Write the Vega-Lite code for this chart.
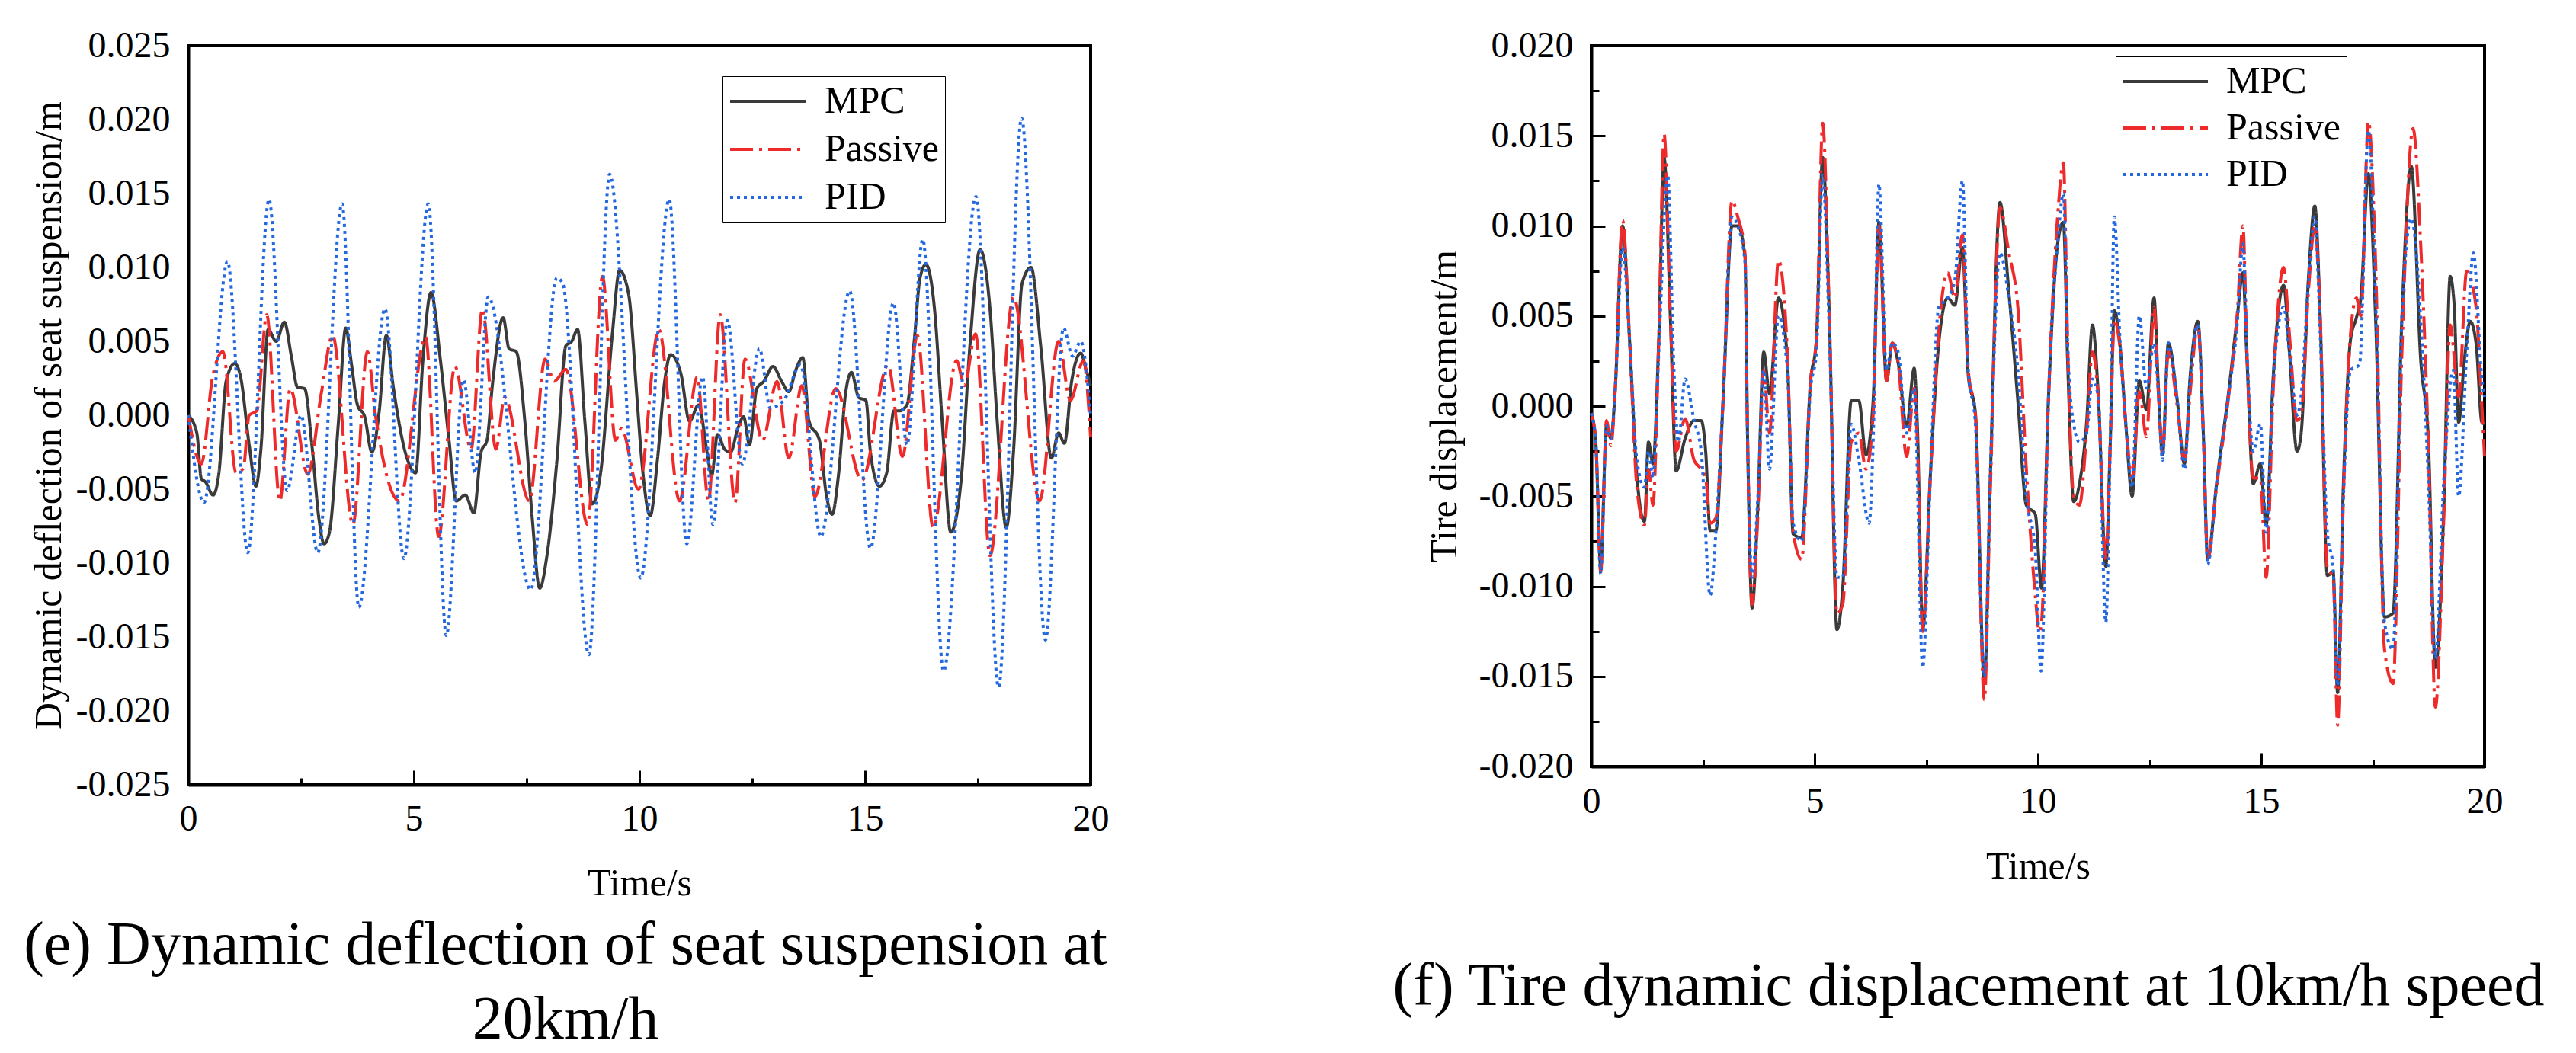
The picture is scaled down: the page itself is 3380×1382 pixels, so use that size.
{
"$schema": "https://vega.github.io/schema/vega-lite/v6.json",
"background": "white",
"padding": {"left": 29, "top": 34, "right": 0, "bottom": 0},
"bounds": "flush",
"spacing": 657,
"config": {
  "locale": {"number": {"decimal": ".", "thousands": ",", "grouping": [3], "currency": ["$", ""], "minus": "-"}},
  "view": {"stroke": "black", "strokeWidth": 4},
  "font": "Liberation Serif",
  "axis": {"domainColor": "black", "domainWidth": 4, "tickColor": "black", "tickWidth": 3, "labelColor": "black", "titleColor": "black", "labelFont": "Liberation Serif", "titleFont": "Liberation Serif", "labelFontSize": 48, "titleFontSize": 50, "titleFontWeight": "normal", "grid": false, "labelFlush": false, "labelOverlap": false},
  "legend": {"title": null, "symbolType": "stroke", "symbolStrokeWidth": 4, "labelFont": "Liberation Serif", "labelFontSize": 50, "labelColor": "black", "strokeColor": "black", "fillColor": "white", "padding": 8, "clipHeight": 50, "labelOffset": 22, "orient": "none"}
},
"resolve": {"scale": {"color": "independent", "strokeDash": "independent"}, "legend": {"color": "independent", "strokeDash": "independent"}},
"datasets": {
"left": [
{"s":"MPC","t":0,"v":0},{"s":"MPC","t":0.19,"v":-0.0012},{"s":"MPC","t":0.29,"v":-0.0043},{"s":"MPC","t":0.38,"v":-0.0045},{"s":"MPC","t":0.55,"v":-0.0054},{"s":"MPC","t":0.68,"v":-0.0039},{"s":"MPC","t":0.84,"v":0.0023},{"s":"MPC","t":1.03,"v":0.0035},{"s":"MPC","t":1.16,"v":0.0026},{"s":"MPC","t":1.35,"v":-0.002},{"s":"MPC","t":1.5,"v":-0.0048},{"s":"MPC","t":1.61,"v":-0.0023},{"s":"MPC","t":1.77,"v":0.0058},{"s":"MPC","t":1.95,"v":0.005},{"s":"MPC","t":2.13,"v":0.0063},{"s":"MPC","t":2.29,"v":0.0039},{"s":"MPC","t":2.42,"v":0.0019},{"s":"MPC","t":2.58,"v":0.0018},{"s":"MPC","t":2.74,"v":-0.002},{"s":"MPC","t":2.9,"v":-0.0071},{"s":"MPC","t":3.01,"v":-0.0087},{"s":"MPC","t":3.13,"v":-0.0079},{"s":"MPC","t":3.33,"v":-0.0004},{"s":"MPC","t":3.49,"v":0.0059},{"s":"MPC","t":3.62,"v":0.0034},{"s":"MPC","t":3.75,"v":0.0007},{"s":"MPC","t":3.91,"v":-0.0001},{"s":"MPC","t":4.07,"v":-0.0025},{"s":"MPC","t":4.23,"v":0.0002},{"s":"MPC","t":4.39,"v":0.0054},{"s":"MPC","t":4.55,"v":0.0018},{"s":"MPC","t":4.81,"v":-0.0025},{"s":"MPC","t":5.04,"v":-0.0039},{"s":"MPC","t":5.2,"v":0.0037},{"s":"MPC","t":5.38,"v":0.0083},{"s":"MPC","t":5.59,"v":0.0037},{"s":"MPC","t":5.78,"v":-0.0017},{"s":"MPC","t":5.94,"v":-0.0058},{"s":"MPC","t":6.14,"v":-0.0054},{"s":"MPC","t":6.33,"v":-0.0066},{"s":"MPC","t":6.49,"v":-0.0025},{"s":"MPC","t":6.62,"v":-0.0017},{"s":"MPC","t":6.75,"v":0.0023},{"s":"MPC","t":6.98,"v":0.0066},{"s":"MPC","t":7.11,"v":0.0045},{"s":"MPC","t":7.27,"v":0.0043},{"s":"MPC","t":7.46,"v":-0.0004},{"s":"MPC","t":7.62,"v":-0.0068},{"s":"MPC","t":7.79,"v":-0.0117},{"s":"MPC","t":7.95,"v":-0.0095},{"s":"MPC","t":8.17,"v":-0.0031},{"s":"MPC","t":8.37,"v":0.0047},{"s":"MPC","t":8.5,"v":0.005},{"s":"MPC","t":8.63,"v":0.0058},{"s":"MPC","t":8.79,"v":-0.0004},{"s":"MPC","t":8.95,"v":-0.006},{"s":"MPC","t":9.14,"v":-0.0039},{"s":"MPC","t":9.4,"v":0.0055},{"s":"MPC","t":9.56,"v":0.0098},{"s":"MPC","t":9.76,"v":0.0082},{"s":"MPC","t":9.95,"v":0.001},{"s":"MPC","t":10.05,"v":-0.003},{"s":"MPC","t":10.24,"v":-0.0068},{"s":"MPC","t":10.4,"v":-0.003},{"s":"MPC","t":10.56,"v":0.0023},{"s":"MPC","t":10.69,"v":0.0041},{"s":"MPC","t":10.92,"v":0.0028},{"s":"MPC","t":11.11,"v":-0.0004},{"s":"MPC","t":11.31,"v":0.0007},{"s":"MPC","t":11.5,"v":-0.0025},{"s":"MPC","t":11.6,"v":-0.0041},{"s":"MPC","t":11.73,"v":-0.0013},{"s":"MPC","t":11.89,"v":-0.0023},{"s":"MPC","t":12.02,"v":-0.0025},{"s":"MPC","t":12.18,"v":-0.0009},{"s":"MPC","t":12.31,"v":-0.0001},{"s":"MPC","t":12.44,"v":-0.002},{"s":"MPC","t":12.6,"v":0.0018},{"s":"MPC","t":12.76,"v":0.0023},{"s":"MPC","t":12.96,"v":0.0033},{"s":"MPC","t":13.15,"v":0.0023},{"s":"MPC","t":13.31,"v":0.0016},{"s":"MPC","t":13.47,"v":0.0031},{"s":"MPC","t":13.62,"v":0.0039},{"s":"MPC","t":13.76,"v":-0.0004},{"s":"MPC","t":13.99,"v":-0.0017},{"s":"MPC","t":14.15,"v":-0.0055},{"s":"MPC","t":14.27,"v":-0.0067},{"s":"MPC","t":14.41,"v":-0.0041},{"s":"MPC","t":14.57,"v":0.0015},{"s":"MPC","t":14.7,"v":0.0029},{"s":"MPC","t":14.86,"v":0.0012},{"s":"MPC","t":15.02,"v":0.001},{"s":"MPC","t":15.12,"v":-0.0025},{"s":"MPC","t":15.32,"v":-0.0048},{"s":"MPC","t":15.48,"v":-0.0039},{"s":"MPC","t":15.64,"v":0.0003},{"s":"MPC","t":15.77,"v":0.0003},{"s":"MPC","t":15.93,"v":0.0007},{"s":"MPC","t":16.09,"v":0.005},{"s":"MPC","t":16.22,"v":0.0093},{"s":"MPC","t":16.35,"v":0.0102},{"s":"MPC","t":16.54,"v":0.0072},{"s":"MPC","t":16.71,"v":-0.0004},{"s":"MPC","t":16.9,"v":-0.0079},{"s":"MPC","t":17.13,"v":-0.0044},{"s":"MPC","t":17.32,"v":0.0045},{"s":"MPC","t":17.55,"v":0.0112},{"s":"MPC","t":17.77,"v":0.0072},{"s":"MPC","t":17.93,"v":-0.0004},{"s":"MPC","t":18.13,"v":-0.0076},{"s":"MPC","t":18.29,"v":-0.0025},{"s":"MPC","t":18.48,"v":0.0089},{"s":"MPC","t":18.68,"v":0.01},{"s":"MPC","t":18.9,"v":0.0045},{"s":"MPC","t":19.13,"v":-0.0029},{"s":"MPC","t":19.29,"v":-0.0012},{"s":"MPC","t":19.42,"v":-0.0019},{"s":"MPC","t":19.58,"v":0.0023},{"s":"MPC","t":19.78,"v":0.0042},{"s":"MPC","t":19.9,"v":0.0031},{"s":"MPC","t":20,"v":0.002},
{"s":"Passive","t":0,"v":0},{"s":"Passive","t":0.29,"v":-0.0033},{"s":"Passive","t":0.54,"v":0.0026},{"s":"Passive","t":0.77,"v":0.0043},{"s":"Passive","t":1.06,"v":-0.0039},{"s":"Passive","t":1.22,"v":-0.0036},{"s":"Passive","t":1.35,"v":0},{"s":"Passive","t":1.52,"v":0.0003},{"s":"Passive","t":1.74,"v":0.0068},{"s":"Passive","t":2.03,"v":-0.0058},{"s":"Passive","t":2.26,"v":0.0018},{"s":"Passive","t":2.65,"v":-0.004},{"s":"Passive","t":2.95,"v":0.0015},{"s":"Passive","t":3.2,"v":0.0054},{"s":"Passive","t":3.65,"v":-0.0074},{"s":"Passive","t":3.97,"v":0.0043},{"s":"Passive","t":4.15,"v":0},{"s":"Passive","t":4.68,"v":-0.0058},{"s":"Passive","t":5.26,"v":0.0053},{"s":"Passive","t":5.55,"v":-0.0082},{"s":"Passive","t":5.91,"v":0.0033},{"s":"Passive","t":6.27,"v":-0.0023},{"s":"Passive","t":6.52,"v":0.0072},{"s":"Passive","t":6.82,"v":-0.0023},{"s":"Passive","t":7.01,"v":0.0012},{"s":"Passive","t":7.56,"v":-0.0058},{"s":"Passive","t":7.91,"v":0.0038},{"s":"Passive","t":8.11,"v":0.0023},{"s":"Passive","t":8.37,"v":0.0031},{"s":"Passive","t":8.85,"v":-0.0074},{"s":"Passive","t":9.18,"v":0.0094},{"s":"Passive","t":9.47,"v":-0.0017},{"s":"Passive","t":9.6,"v":-0.0009},{"s":"Passive","t":9.98,"v":-0.005},{"s":"Passive","t":10.43,"v":0.0058},{"s":"Passive","t":10.89,"v":-0.0058},{"s":"Passive","t":11.28,"v":0.0026},{"s":"Passive","t":11.53,"v":-0.0058},{"s":"Passive","t":11.79,"v":0.0068},{"s":"Passive","t":12.12,"v":-0.0059},{"s":"Passive","t":12.34,"v":0.0038},{"s":"Passive","t":12.73,"v":-0.0017},{"s":"Passive","t":13.05,"v":0.0023},{"s":"Passive","t":13.31,"v":-0.0029},{"s":"Passive","t":13.6,"v":0.002},{"s":"Passive","t":13.89,"v":-0.0055},{"s":"Passive","t":14.35,"v":0.0018},{"s":"Passive","t":14.93,"v":-0.0044},{"s":"Passive","t":15.51,"v":0.0034},{"s":"Passive","t":15.83,"v":-0.0028},{"s":"Passive","t":16.16,"v":0.0054},{"s":"Passive","t":16.51,"v":-0.0076},{"s":"Passive","t":17.03,"v":0.0037},{"s":"Passive","t":17.2,"v":0.002},{"s":"Passive","t":17.45,"v":0.0055},{"s":"Passive","t":17.77,"v":-0.0095},{"s":"Passive","t":18.29,"v":0.008},{"s":"Passive","t":18.87,"v":-0.0058},{"s":"Passive","t":19.29,"v":0.005},{"s":"Passive","t":19.55,"v":0.001},{"s":"Passive","t":19.84,"v":0.0037},{"s":"Passive","t":20,"v":-0.0015},
{"s":"PID","t":0,"v":0},{"s":"PID","t":0.35,"v":-0.0059},{"s":"PID","t":0.87,"v":0.0104},{"s":"PID","t":1.32,"v":-0.0093},{"s":"PID","t":1.79,"v":0.0146},{"s":"PID","t":2.19,"v":-0.0051},{"s":"PID","t":2.5,"v":0},{"s":"PID","t":2.87,"v":-0.0093},{"s":"PID","t":3.41,"v":0.0143},{"s":"PID","t":3.78,"v":-0.013},{"s":"PID","t":4.36,"v":0.0072},{"s":"PID","t":4.78,"v":-0.0097},{"s":"PID","t":5.32,"v":0.0143},{"s":"PID","t":5.72,"v":-0.0149},{"s":"PID","t":6.1,"v":0.0024},{"s":"PID","t":6.36,"v":-0.0039},{"s":"PID","t":6.65,"v":0.008},{"s":"PID","t":7.59,"v":-0.0118},{"s":"PID","t":8.17,"v":0.0093},{"s":"PID","t":8.3,"v":0.0089},{"s":"PID","t":8.88,"v":-0.0162},{"s":"PID","t":9.34,"v":0.0163},{"s":"PID","t":10.03,"v":-0.011},{"s":"PID","t":10.66,"v":0.0146},{"s":"PID","t":11.05,"v":-0.0087},{"s":"PID","t":11.4,"v":0.0026},{"s":"PID","t":11.63,"v":-0.0074},{"s":"PID","t":11.95,"v":0.0064},{"s":"PID","t":12.28,"v":-0.0033},{"s":"PID","t":12.66,"v":0.0045},{"s":"PID","t":12.9,"v":0.0005},{"s":"PID","t":13.2,"v":0.001},{"s":"PID","t":13.57,"v":0.0034},{"s":"PID","t":14.02,"v":-0.0082},{"s":"PID","t":14.66,"v":0.0084},{"s":"PID","t":15.12,"v":-0.009},{"s":"PID","t":15.63,"v":0.0076},{"s":"PID","t":15.93,"v":-0.002},{"s":"PID","t":16.28,"v":0.0119},{"s":"PID","t":16.74,"v":-0.0173},{"s":"PID","t":17.46,"v":0.0148},{"s":"PID","t":17.96,"v":-0.0184},{"s":"PID","t":18.47,"v":0.0201},{"s":"PID","t":19,"v":-0.0152},{"s":"PID","t":19.4,"v":0.0059},{"s":"PID","t":19.6,"v":0.004},{"s":"PID","t":19.78,"v":0.005},{"s":"PID","t":20,"v":0}
],
"right": [
{"s":"MPC","t":0,"v":-0.0004},{"s":"MPC","t":0.1,"v":-0.002},{"s":"MPC","t":0.21,"v":-0.0089},{"s":"MPC","t":0.34,"v":-0.0011},{"s":"MPC","t":0.44,"v":-0.0018},{"s":"MPC","t":0.53,"v":0.0007},{"s":"MPC","t":0.7,"v":0.01},{"s":"MPC","t":0.86,"v":0.0035},{"s":"MPC","t":1.02,"v":-0.0039},{"s":"MPC","t":1.19,"v":-0.0064},{"s":"MPC","t":1.28,"v":-0.002},{"s":"MPC","t":1.38,"v":-0.0032},{"s":"MPC","t":1.51,"v":0.0037},{"s":"MPC","t":1.63,"v":0.0138},{"s":"MPC","t":1.77,"v":0.0049},{"s":"MPC","t":1.9,"v":-0.0036},{"s":"MPC","t":2.1,"v":-0.0018},{"s":"MPC","t":2.3,"v":-0.0008},{"s":"MPC","t":2.46,"v":-0.0008},{"s":"MPC","t":2.56,"v":-0.0025},{"s":"MPC","t":2.66,"v":-0.0069},{"s":"MPC","t":2.79,"v":-0.0069},{"s":"MPC","t":2.95,"v":0.0003},{"s":"MPC","t":3.15,"v":0.01},{"s":"MPC","t":3.28,"v":0.01},{"s":"MPC","t":3.44,"v":0.0083},{"s":"MPC","t":3.5,"v":-0.002},{"s":"MPC","t":3.6,"v":-0.0112},{"s":"MPC","t":3.73,"v":-0.0055},{"s":"MPC","t":3.86,"v":0.003},{"s":"MPC","t":3.99,"v":0.0007},{"s":"MPC","t":4.19,"v":0.006},{"s":"MPC","t":4.39,"v":0.0026},{"s":"MPC","t":4.52,"v":-0.0071},{"s":"MPC","t":4.71,"v":-0.0073},{"s":"MPC","t":4.91,"v":0.0014},{"s":"MPC","t":5.04,"v":0.0037},{"s":"MPC","t":5.18,"v":0.0138},{"s":"MPC","t":5.33,"v":0.0049},{"s":"MPC","t":5.5,"v":-0.0124},{"s":"MPC","t":5.63,"v":-0.0101},{"s":"MPC","t":5.82,"v":0.0003},{"s":"MPC","t":5.99,"v":0.0003},{"s":"MPC","t":6.15,"v":-0.0027},{"s":"MPC","t":6.31,"v":0.0003},{"s":"MPC","t":6.44,"v":0.0102},{"s":"MPC","t":6.61,"v":0.0014},{"s":"MPC","t":6.74,"v":0.0035},{"s":"MPC","t":6.87,"v":0.0024},{"s":"MPC","t":7.06,"v":-0.0011},{"s":"MPC","t":7.23,"v":0.0021},{"s":"MPC","t":7.3,"v":-0.0011},{"s":"MPC","t":7.42,"v":-0.0124},{"s":"MPC","t":7.59,"v":-0.0039},{"s":"MPC","t":7.78,"v":0.0035},{"s":"MPC","t":7.98,"v":0.006},{"s":"MPC","t":8.14,"v":0.0056},{"s":"MPC","t":8.31,"v":0.0088},{"s":"MPC","t":8.44,"v":0.0017},{"s":"MPC","t":8.6,"v":-0.0004},{"s":"MPC","t":8.8,"v":-0.0154},{"s":"MPC","t":8.93,"v":-0.0043},{"s":"MPC","t":9.15,"v":0.0113},{"s":"MPC","t":9.35,"v":0.0063},{"s":"MPC","t":9.55,"v":0.0003},{"s":"MPC","t":9.74,"v":-0.0055},{"s":"MPC","t":9.94,"v":-0.006},{"s":"MPC","t":10.08,"v":-0.0101},{"s":"MPC","t":10.24,"v":0.0007},{"s":"MPC","t":10.44,"v":0.009},{"s":"MPC","t":10.57,"v":0.0102},{"s":"MPC","t":10.67,"v":0.0021},{"s":"MPC","t":10.8,"v":-0.0053},{"s":"MPC","t":10.93,"v":-0.0043},{"s":"MPC","t":11.09,"v":-0.0009},{"s":"MPC","t":11.22,"v":0.0045},{"s":"MPC","t":11.35,"v":0.0007},{"s":"MPC","t":11.52,"v":-0.0089},{"s":"MPC","t":11.62,"v":-0.002},{"s":"MPC","t":11.71,"v":0.0053},{"s":"MPC","t":11.84,"v":0.0033},{"s":"MPC","t":11.97,"v":-0.0011},{"s":"MPC","t":12.11,"v":-0.005},{"s":"MPC","t":12.27,"v":0.0014},{"s":"MPC","t":12.43,"v":-0.0002},{"s":"MPC","t":12.6,"v":0.006},{"s":"MPC","t":12.69,"v":0.0014},{"s":"MPC","t":12.79,"v":-0.0027},{"s":"MPC","t":12.92,"v":0.0035},{"s":"MPC","t":13.12,"v":0.0003},{"s":"MPC","t":13.28,"v":-0.0032},{"s":"MPC","t":13.41,"v":0.0017},{"s":"MPC","t":13.58,"v":0.0047},{"s":"MPC","t":13.71,"v":-0.002},{"s":"MPC","t":13.8,"v":-0.0085},{"s":"MPC","t":14,"v":-0.0043},{"s":"MPC","t":14.29,"v":0.0012},{"s":"MPC","t":14.46,"v":0.0049},{"s":"MPC","t":14.59,"v":0.0074},{"s":"MPC","t":14.68,"v":0.0026},{"s":"MPC","t":14.82,"v":-0.0043},{"s":"MPC","t":14.98,"v":-0.0032},{"s":"MPC","t":15.11,"v":-0.0066},{"s":"MPC","t":15.27,"v":0.0017},{"s":"MPC","t":15.5,"v":0.0067},{"s":"MPC","t":15.63,"v":0.003},{"s":"MPC","t":15.8,"v":-0.0025},{"s":"MPC","t":15.89,"v":-0.0016},{"s":"MPC","t":16.06,"v":0.0072},{"s":"MPC","t":16.2,"v":0.0111},{"s":"MPC","t":16.32,"v":0.0049},{"s":"MPC","t":16.48,"v":-0.0094},{"s":"MPC","t":16.61,"v":-0.0092},{"s":"MPC","t":16.71,"v":-0.0159},{"s":"MPC","t":16.84,"v":-0.0043},{"s":"MPC","t":17,"v":0.0037},{"s":"MPC","t":17.13,"v":0.0049},{"s":"MPC","t":17.23,"v":0.006},{"s":"MPC","t":17.4,"v":0.0129},{"s":"MPC","t":17.56,"v":0.0049},{"s":"MPC","t":17.76,"v":-0.0117},{"s":"MPC","t":17.95,"v":-0.0115},{"s":"MPC","t":18.15,"v":0.0049},{"s":"MPC","t":18.36,"v":0.0133},{"s":"MPC","t":18.57,"v":0.0026},{"s":"MPC","t":18.74,"v":-0.0018},{"s":"MPC","t":18.9,"v":-0.0145},{"s":"MPC","t":19.09,"v":-0.0055},{"s":"MPC","t":19.23,"v":0.0072},{"s":"MPC","t":19.32,"v":0.0056},{"s":"MPC","t":19.42,"v":-0.0009},{"s":"MPC","t":19.55,"v":0.0026},{"s":"MPC","t":19.68,"v":0.0047},{"s":"MPC","t":19.81,"v":0.0035},{"s":"MPC","t":19.94,"v":-0.0009},{"s":"MPC","t":20,"v":-0.001},
{"s":"Passive","t":0,"v":-0.0004},{"s":"Passive","t":0.1,"v":-0.002},{"s":"Passive","t":0.21,"v":-0.0092},{"s":"Passive","t":0.34,"v":-0.0008},{"s":"Passive","t":0.44,"v":-0.0022},{"s":"Passive","t":0.53,"v":0.0007},{"s":"Passive","t":0.7,"v":0.0103},{"s":"Passive","t":0.86,"v":0.0035},{"s":"Passive","t":1.02,"v":-0.0045},{"s":"Passive","t":1.19,"v":-0.0066},{"s":"Passive","t":1.28,"v":-0.0035},{"s":"Passive","t":1.38,"v":-0.0055},{"s":"Passive","t":1.51,"v":0.0037},{"s":"Passive","t":1.63,"v":0.0151},{"s":"Passive","t":1.77,"v":0.005},{"s":"Passive","t":1.9,"v":-0.0025},{"s":"Passive","t":2.1,"v":-0.0007},{"s":"Passive","t":2.3,"v":-0.003},{"s":"Passive","t":2.46,"v":-0.0035},{"s":"Passive","t":2.56,"v":-0.004},{"s":"Passive","t":2.66,"v":-0.0065},{"s":"Passive","t":2.79,"v":-0.0062},{"s":"Passive","t":2.95,"v":0.0003},{"s":"Passive","t":3.15,"v":0.0114},{"s":"Passive","t":3.28,"v":0.0105},{"s":"Passive","t":3.44,"v":0.0085},{"s":"Passive","t":3.5,"v":-0.002},{"s":"Passive","t":3.6,"v":-0.011},{"s":"Passive","t":3.73,"v":-0.006},{"s":"Passive","t":3.86,"v":0.002},{"s":"Passive","t":3.99,"v":-0.0015},{"s":"Passive","t":4.19,"v":0.0081},{"s":"Passive","t":4.39,"v":0.003},{"s":"Passive","t":4.52,"v":-0.007},{"s":"Passive","t":4.71,"v":-0.0085},{"s":"Passive","t":4.91,"v":0.0014},{"s":"Passive","t":5.04,"v":0.0037},{"s":"Passive","t":5.18,"v":0.0157},{"s":"Passive","t":5.33,"v":0.005},{"s":"Passive","t":5.5,"v":-0.0115},{"s":"Passive","t":5.63,"v":-0.011},{"s":"Passive","t":5.82,"v":-0.002},{"s":"Passive","t":5.99,"v":-0.0015},{"s":"Passive","t":6.15,"v":-0.0035},{"s":"Passive","t":6.31,"v":-0.0005},{"s":"Passive","t":6.44,"v":0.01},{"s":"Passive","t":6.61,"v":0.0014},{"s":"Passive","t":6.74,"v":0.0035},{"s":"Passive","t":6.87,"v":0.0024},{"s":"Passive","t":7.06,"v":-0.0028},{"s":"Passive","t":7.23,"v":0.001},{"s":"Passive","t":7.3,"v":-0.002},{"s":"Passive","t":7.42,"v":-0.0125},{"s":"Passive","t":7.59,"v":-0.004},{"s":"Passive","t":7.78,"v":0.0042},{"s":"Passive","t":7.98,"v":0.0074},{"s":"Passive","t":8.14,"v":0.006},{"s":"Passive","t":8.31,"v":0.0095},{"s":"Passive","t":8.44,"v":0.002},{"s":"Passive","t":8.6,"v":-0.0005},{"s":"Passive","t":8.8,"v":-0.0163},{"s":"Passive","t":8.93,"v":-0.005},{"s":"Passive","t":9.15,"v":0.011},{"s":"Passive","t":9.35,"v":0.0085},{"s":"Passive","t":9.55,"v":0.0055},{"s":"Passive","t":9.74,"v":-0.0035},{"s":"Passive","t":9.94,"v":-0.0105},{"s":"Passive","t":10.03,"v":-0.0125},{"s":"Passive","t":10.08,"v":-0.012},{"s":"Passive","t":10.24,"v":0.0007},{"s":"Passive","t":10.44,"v":0.0105},{"s":"Passive","t":10.57,"v":0.0135},{"s":"Passive","t":10.67,"v":0.003},{"s":"Passive","t":10.8,"v":-0.005},{"s":"Passive","t":10.93,"v":-0.0055},{"s":"Passive","t":11.09,"v":-0.0015},{"s":"Passive","t":11.22,"v":0.003},{"s":"Passive","t":11.35,"v":0.0005},{"s":"Passive","t":11.52,"v":-0.0085},{"s":"Passive","t":11.62,"v":-0.002},{"s":"Passive","t":11.71,"v":0.0048},{"s":"Passive","t":11.84,"v":0.0032},{"s":"Passive","t":11.97,"v":-0.001},{"s":"Passive","t":12.11,"v":-0.004},{"s":"Passive","t":12.27,"v":0.0008},{"s":"Passive","t":12.43,"v":-0.0017},{"s":"Passive","t":12.6,"v":0.0055},{"s":"Passive","t":12.69,"v":0.001},{"s":"Passive","t":12.79,"v":-0.0025},{"s":"Passive","t":12.92,"v":0.003},{"s":"Passive","t":13.12,"v":0},{"s":"Passive","t":13.28,"v":-0.003},{"s":"Passive","t":13.41,"v":0.0008},{"s":"Passive","t":13.58,"v":0.0045},{"s":"Passive","t":13.71,"v":-0.002},{"s":"Passive","t":13.8,"v":-0.0085},{"s":"Passive","t":14,"v":-0.0045},{"s":"Passive","t":14.29,"v":0.001},{"s":"Passive","t":14.46,"v":0.005},{"s":"Passive","t":14.59,"v":0.01},{"s":"Passive","t":14.68,"v":0.003},{"s":"Passive","t":14.82,"v":-0.004},{"s":"Passive","t":14.98,"v":-0.004},{"s":"Passive","t":15.11,"v":-0.0095},{"s":"Passive","t":15.27,"v":0.001},{"s":"Passive","t":15.5,"v":0.0077},{"s":"Passive","t":15.63,"v":0.004},{"s":"Passive","t":15.8,"v":-0.0008},{"s":"Passive","t":15.89,"v":-0.0005},{"s":"Passive","t":16.06,"v":0.0065},{"s":"Passive","t":16.2,"v":0.01},{"s":"Passive","t":16.32,"v":0.005},{"s":"Passive","t":16.48,"v":-0.009},{"s":"Passive","t":16.61,"v":-0.0095},{"s":"Passive","t":16.71,"v":-0.0177},{"s":"Passive","t":16.84,"v":-0.005},{"s":"Passive","t":17,"v":0.004},{"s":"Passive","t":17.13,"v":0.006},{"s":"Passive","t":17.23,"v":0.005},{"s":"Passive","t":17.4,"v":0.0158},{"s":"Passive","t":17.56,"v":0.008},{"s":"Passive","t":17.76,"v":-0.0135},{"s":"Passive","t":17.95,"v":-0.0154},{"s":"Passive","t":18.15,"v":0.003},{"s":"Passive","t":18.4,"v":0.0154},{"s":"Passive","t":18.57,"v":0.009},{"s":"Passive","t":18.74,"v":-0.002},{"s":"Passive","t":18.9,"v":-0.0167},{"s":"Passive","t":19.09,"v":-0.006},{"s":"Passive","t":19.23,"v":0.0045},{"s":"Passive","t":19.42,"v":0.0005},{"s":"Passive","t":19.6,"v":0.0075},{"s":"Passive","t":19.81,"v":0.0055},{"s":"Passive","t":19.94,"v":0},{"s":"Passive","t":20,"v":-0.0028},
{"s":"PID","t":0,"v":-0.0004},{"s":"PID","t":0.1,"v":-0.002},{"s":"PID","t":0.21,"v":-0.0093},{"s":"PID","t":0.34,"v":-0.0011},{"s":"PID","t":0.44,"v":-0.0018},{"s":"PID","t":0.53,"v":0.0007},{"s":"PID","t":0.7,"v":0.0088},{"s":"PID","t":0.86,"v":0.0035},{"s":"PID","t":1.02,"v":-0.003},{"s":"PID","t":1.19,"v":-0.0045},{"s":"PID","t":1.28,"v":-0.0025},{"s":"PID","t":1.38,"v":-0.004},{"s":"PID","t":1.51,"v":0.003},{"s":"PID","t":1.71,"v":0.0128},{"s":"PID","t":1.85,"v":0.002},{"s":"PID","t":1.95,"v":-0.002},{"s":"PID","t":2.1,"v":0.0015},{"s":"PID","t":2.3,"v":-0.0008},{"s":"PID","t":2.46,"v":-0.0025},{"s":"PID","t":2.66,"v":-0.0105},{"s":"PID","t":2.79,"v":-0.007},{"s":"PID","t":2.95,"v":0.0003},{"s":"PID","t":3.15,"v":0.0105},{"s":"PID","t":3.28,"v":0.01},{"s":"PID","t":3.44,"v":0.008},{"s":"PID","t":3.5,"v":-0.002},{"s":"PID","t":3.6,"v":-0.0095},{"s":"PID","t":3.73,"v":-0.005},{"s":"PID","t":3.86,"v":0.002},{"s":"PID","t":3.99,"v":-0.0035},{"s":"PID","t":4.19,"v":0.005},{"s":"PID","t":4.39,"v":0.002},{"s":"PID","t":4.52,"v":-0.0065},{"s":"PID","t":4.71,"v":-0.0075},{"s":"PID","t":4.91,"v":0.001},{"s":"PID","t":5.04,"v":0.003},{"s":"PID","t":5.18,"v":0.0128},{"s":"PID","t":5.33,"v":0.004},{"s":"PID","t":5.5,"v":-0.0095},{"s":"PID","t":5.63,"v":-0.0095},{"s":"PID","t":5.82,"v":-0.001},{"s":"PID","t":5.99,"v":-0.003},{"s":"PID","t":6.22,"v":-0.0065},{"s":"PID","t":6.31,"v":-0.002},{"s":"PID","t":6.44,"v":0.0123},{"s":"PID","t":6.61,"v":0.002},{"s":"PID","t":6.74,"v":0.0035},{"s":"PID","t":6.87,"v":0.003},{"s":"PID","t":7.06,"v":-0.0015},{"s":"PID","t":7.23,"v":0.001},{"s":"PID","t":7.42,"v":-0.0145},{"s":"PID","t":7.59,"v":-0.004},{"s":"PID","t":7.78,"v":0.0055},{"s":"PID","t":7.98,"v":0.006},{"s":"PID","t":8.14,"v":0.007},{"s":"PID","t":8.31,"v":0.0125},{"s":"PID","t":8.44,"v":0.002},{"s":"PID","t":8.6,"v":-0.001},{"s":"PID","t":8.8,"v":-0.015},{"s":"PID","t":8.93,"v":-0.004},{"s":"PID","t":9.15,"v":0.0085},{"s":"PID","t":9.35,"v":0.006},{"s":"PID","t":9.55,"v":0.002},{"s":"PID","t":9.74,"v":-0.005},{"s":"PID","t":9.94,"v":-0.008},{"s":"PID","t":10.07,"v":-0.0147},{"s":"PID","t":10.24,"v":0.0007},{"s":"PID","t":10.44,"v":0.009},{"s":"PID","t":10.57,"v":0.0118},{"s":"PID","t":10.67,"v":0.003},{"s":"PID","t":10.8,"v":-0.001},{"s":"PID","t":10.93,"v":-0.002},{"s":"PID","t":11.09,"v":-0.0015},{"s":"PID","t":11.22,"v":0.0015},{"s":"PID","t":11.35,"v":0.0005},{"s":"PID","t":11.52,"v":-0.012},{"s":"PID","t":11.62,"v":-0.002},{"s":"PID","t":11.71,"v":0.0105},{"s":"PID","t":11.84,"v":0.0035},{"s":"PID","t":11.97,"v":-0.001},{"s":"PID","t":12.11,"v":-0.0045},{"s":"PID","t":12.27,"v":0.005},{"s":"PID","t":12.43,"v":0.001},{"s":"PID","t":12.6,"v":0.0035},{"s":"PID","t":12.69,"v":0.001},{"s":"PID","t":12.79,"v":-0.003},{"s":"PID","t":12.92,"v":0.0035},{"s":"PID","t":13.12,"v":0.0003},{"s":"PID","t":13.28,"v":-0.0035},{"s":"PID","t":13.41,"v":0.0015},{"s":"PID","t":13.58,"v":0.0045},{"s":"PID","t":13.71,"v":-0.002},{"s":"PID","t":13.8,"v":-0.0088},{"s":"PID","t":14,"v":-0.0043},{"s":"PID","t":14.29,"v":0.001},{"s":"PID","t":14.46,"v":0.0045},{"s":"PID","t":14.59,"v":0.009},{"s":"PID","t":14.68,"v":0.003},{"s":"PID","t":14.82,"v":-0.0025},{"s":"PID","t":14.98,"v":-0.001},{"s":"PID","t":15.11,"v":-0.007},{"s":"PID","t":15.27,"v":0.0015},{"s":"PID","t":15.5,"v":0.0055},{"s":"PID","t":15.63,"v":0.003},{"s":"PID","t":15.8,"v":-0.0005},{"s":"PID","t":15.89,"v":0.0005},{"s":"PID","t":16.06,"v":0.007},{"s":"PID","t":16.2,"v":0.0105},{"s":"PID","t":16.32,"v":0.004},{"s":"PID","t":16.48,"v":-0.007},{"s":"PID","t":16.61,"v":-0.009},{"s":"PID","t":16.71,"v":-0.0155},{"s":"PID","t":16.84,"v":-0.005},{"s":"PID","t":17,"v":0.002},{"s":"PID","t":17.2,"v":0.0023},{"s":"PID","t":17.4,"v":0.0153},{"s":"PID","t":17.56,"v":0.006},{"s":"PID","t":17.76,"v":-0.012},{"s":"PID","t":17.95,"v":-0.0135},{"s":"PID","t":18.15,"v":0.005},{"s":"PID","t":18.36,"v":0.0104},{"s":"PID","t":18.6,"v":0.0035},{"s":"PID","t":18.74,"v":-0.004},{"s":"PID","t":18.9,"v":-0.014},{"s":"PID","t":19.09,"v":-0.004},{"s":"PID","t":19.3,"v":0.002},{"s":"PID","t":19.42,"v":-0.005},{"s":"PID","t":19.6,"v":0.003},{"s":"PID","t":19.75,"v":0.0085},{"s":"PID","t":19.94,"v":0.0015},{"s":"PID","t":20,"v":0.0005}
]
},
"hconcat": [
{
  "width": 1184, "height": 970,
  "data": {"name": "left"},
  "title": {"text": ["(e) Dynamic deflection of seat suspension at", "20km/h"], "orient": "bottom", "frame": "group", "anchor": "middle", "dx": -97, "offset": 81, "font": "Liberation Serif", "fontSize": 80, "fontWeight": "normal", "lineHeight": 98, "baseline": "alphabetic", "color": "black"},
  "mark": {"type": "line", "strokeWidth": 4, "interpolate": "monotone"},
  "encoding": {
    "x": {"field": "t", "type": "quantitative", "scale": {"domain": [0, 20], "nice": false},
      "axis": {"title": "Time/s", "values": [0, 2.5, 5, 7.5, 10, 12.5, 15, 17.5, 20], "labelExpr": "datum.value % 5 === 0 ? datum.label : ''", "tickSize": {"condition": {"test": "datum.value % 5 === 0", "value": -19}, "value": -9}, "labelPadding": 40, "titlePadding": 25}},
    "y": {"field": "v", "type": "quantitative", "scale": {"domain": [-0.025, 0.025], "nice": false},
      "axis": {"title": "Dynamic deflection of seat suspension/m", "values": [-0.025, -0.02, -0.015, -0.01, -0.005, 0, 0.005, 0.01, 0.015, 0.02, 0.025], "format": ".3f", "ticks": false, "labelPadding": 24, "titlePadding": 10}},
    "color": {"field": "s", "type": "nominal", "scale": {"domain": ["MPC", "Passive", "PID"], "range": ["#3a3a3a", "#ee2a2a", "#2468e0"]},
      "legend": {"orient": "none", "legendX": 701, "legendY": 40, "symbolSize": 10000, "rowPadding": 13}},
    "strokeDash": {"field": "s", "type": "nominal", "scale": {"domain": ["MPC", "Passive", "PID"], "range": [[1, 0], [30, 8, 4, 8], [4, 5]]}}
  }
},
{
  "width": 1172, "height": 946,
  "data": {"name": "right"},
  "title": {"text": "(f) Tire dynamic displacement at 10km/h speed", "orient": "bottom", "frame": "group", "anchor": "middle", "dx": -91, "offset": 157, "font": "Liberation Serif", "fontSize": 80, "fontWeight": "normal", "baseline": "alphabetic", "color": "black"},
  "mark": {"type": "line", "strokeWidth": 4, "interpolate": "monotone"},
  "encoding": {
    "x": {"field": "t", "type": "quantitative", "scale": {"domain": [0, 20], "nice": false},
      "axis": {"title": "Time/s", "values": [0, 2.5, 5, 7.5, 10, 12.5, 15, 17.5, 20], "labelExpr": "datum.value % 5 === 0 ? datum.label : ''", "tickSize": {"condition": {"test": "datum.value % 5 === 0", "value": -18}, "value": -9}, "labelPadding": 40, "titlePadding": 27}},
    "y": {"field": "v", "type": "quantitative", "scale": {"domain": [-0.02, 0.02], "nice": false},
      "axis": {"title": "Tire displacement/m", "values": [-0.02, -0.0175, -0.015, -0.0125, -0.01, -0.0075, -0.005, -0.0025, 0, 0.0025, 0.005, 0.0075, 0.01, 0.0125, 0.015, 0.0175, 0.02], "format": ".3f", "labelExpr": "round(datum.value * 10000) % 50 === 0 ? datum.label : ''", "tickSize": {"condition": {"test": "round(datum.value * 10000) % 50 === 0", "value": -18}, "value": -10}, "labelPadding": 42, "titlePadding": 20}},
    "color": {"field": "s", "type": "nominal", "scale": {"domain": ["MPC", "Passive", "PID"], "range": ["#3a3a3a", "#ee2a2a", "#2468e0"]},
      "legend": {"orient": "none", "legendX": 688, "legendY": 14, "symbolSize": 12321, "rowPadding": 11}},
    "strokeDash": {"field": "s", "type": "nominal", "scale": {"domain": ["MPC", "Passive", "PID"], "range": [[1, 0], [30, 8, 4, 8], [4, 5]]}}
  }
}
]
}
